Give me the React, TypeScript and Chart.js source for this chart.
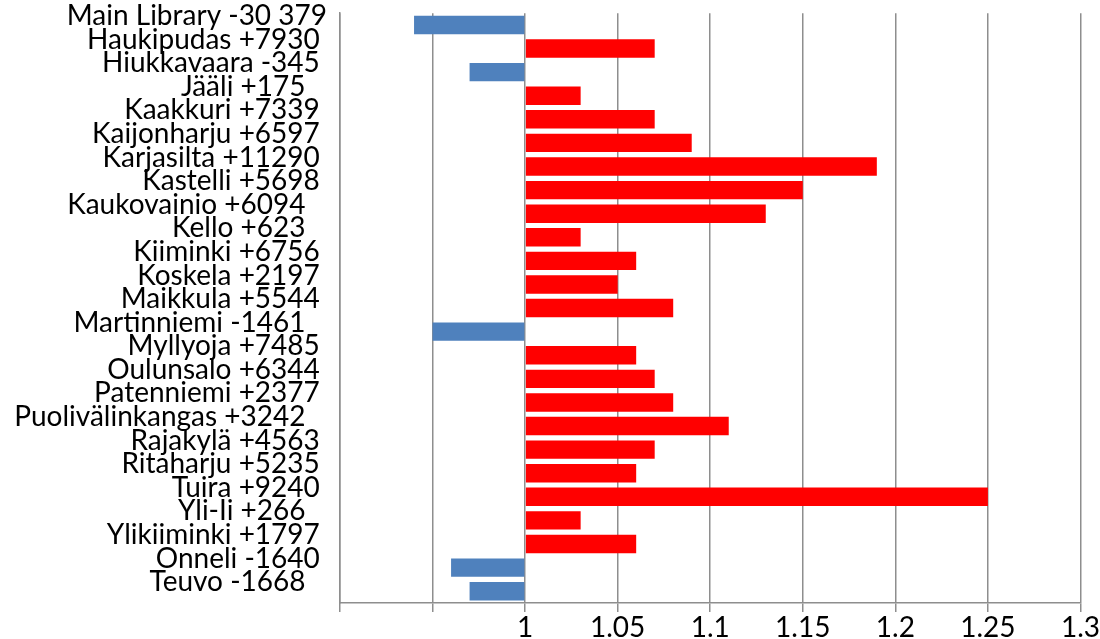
import React, { useEffect, useRef } from 'react';
import { Chart, registerables } from 'chart.js';

Chart.register(...registerables);

// Branch labels (trailing spaces as in the original labels)
const branchLabels: string[] = [
  'Main Library -30 379',
  'Haukipudas +7930 ',
  'Hiukkavaara -345 ',
  'Jääli +175   ',
  'Kaakkuri +7339 ',
  'Kaijonharju +6597 ',
  'Karjasilta +11290 ',
  'Kastelli +5698 ',
  'Kaukovainio +6094   ',
  'Kello +623   ',
  'Kiiminki +6756 ',
  'Koskela +2197 ',
  'Maikkula +5544 ',
  'Martinniemi -1461   ',
  'Myllyoja +7485 ',
  'Oulunsalo +6344 ',
  'Patenniemi +2377 ',
  'Puolivälinkangas +3242   ',
  'Rajakylä +4563 ',
  'Ritaharju +5235 ',
  'Tuira +9240 ',
  'Yli-Ii +266   ',
  'Ylikiiminki +1797 ',
  'Onneli -1640 ',
  'Teuvo -1668   ',
];

// Ratio values (bars drawn from the baseline 1)
const ratioValues: number[] = [
  0.94, 1.07, 0.97, 1.03, 1.07, 1.09, 1.19, 1.15, 1.13, 1.03, 1.06, 1.05, 1.08,
  0.95, 1.06, 1.07, 1.08, 1.11, 1.07, 1.06, 1.25, 1.03, 1.06, 0.96, 0.97,
];

const baselineValue = 1;
const axisMin = 0.9;
const axisMax = 1.3;
const axisStep = 0.05;
const firstLabelledTick = 1;

const gainColor = '#FF0000';
const lossColor = '#4F81BD';
const gridColor = '#8e8e8e';
const fontFamily = 'Lato, "Open Sans", sans-serif';

export default function App() {
  const canvasRef = useRef<HTMLCanvasElement | null>(null);

  useEffect(() => {
    if (!canvasRef.current) return;
    const chart = new Chart(canvasRef.current, {
      type: 'bar',
      data: {
        labels: branchLabels,
        datasets: [
          {
            data: ratioValues,
            base: baselineValue,
            backgroundColor: ratioValues.map((v) => (v >= baselineValue ? gainColor : lossColor)),
            borderWidth: 0,
            barPercentage: 0.78,
            categoryPercentage: 1,
          } as any,
        ],
      },
      options: {
        indexAxis: 'y',
        animation: false,
        responsive: true,
        maintainAspectRatio: false,
        layout: { padding: { top: 0, right: 16, left: 0, bottom: 0 } },
        plugins: {
          legend: { display: false },
          tooltip: { enabled: false },
          title: { display: false },
        },
        scales: {
          x: {
            type: 'linear',
            min: axisMin,
            max: axisMax,
            grid: {
              display: true,
              color: gridColor,
              lineWidth: 1.5,
              drawTicks: true,
              tickLength: 9,
              tickColor: gridColor,
            },
            border: { display: true, color: gridColor, width: 1.5 },
            ticks: {
              stepSize: axisStep,
              autoSkip: false,
              maxRotation: 0,
              padding: 0,
              color: '#000000',
              font: { family: fontFamily, size: 28, lineHeight: 1.15 },
              callback: (value: any) => {
                const v = Number(value);
                if (v < firstLabelledTick - 1e-9) return '';
                return String(Number(v.toFixed(2)));
              },
            },
            afterFit: (scale: any) => {
              scale.height = 36;
            },
          },
          y: {
            type: 'category',
            grid: { display: false, drawTicks: false },
            border: { display: true, color: gridColor, width: 1.5 },
            ticks: {
              autoSkip: false,
              padding: 13,
              labelOffset: -9,
              color: '#000000',
              font: { family: fontFamily, size: 28, lineHeight: 0.01 },
            },
            afterFit: (scale: any) => {
              scale.width = 340;
            },
          },
        },
      },
    });
    return () => chart.destroy();
  }, []);

  return (
    <div style={{ position: 'absolute', left: 0, top: 0, width: 1100, height: 639, background: '#ffffff' }}>
      <canvas ref={canvasRef} />
    </div>
  );
}
